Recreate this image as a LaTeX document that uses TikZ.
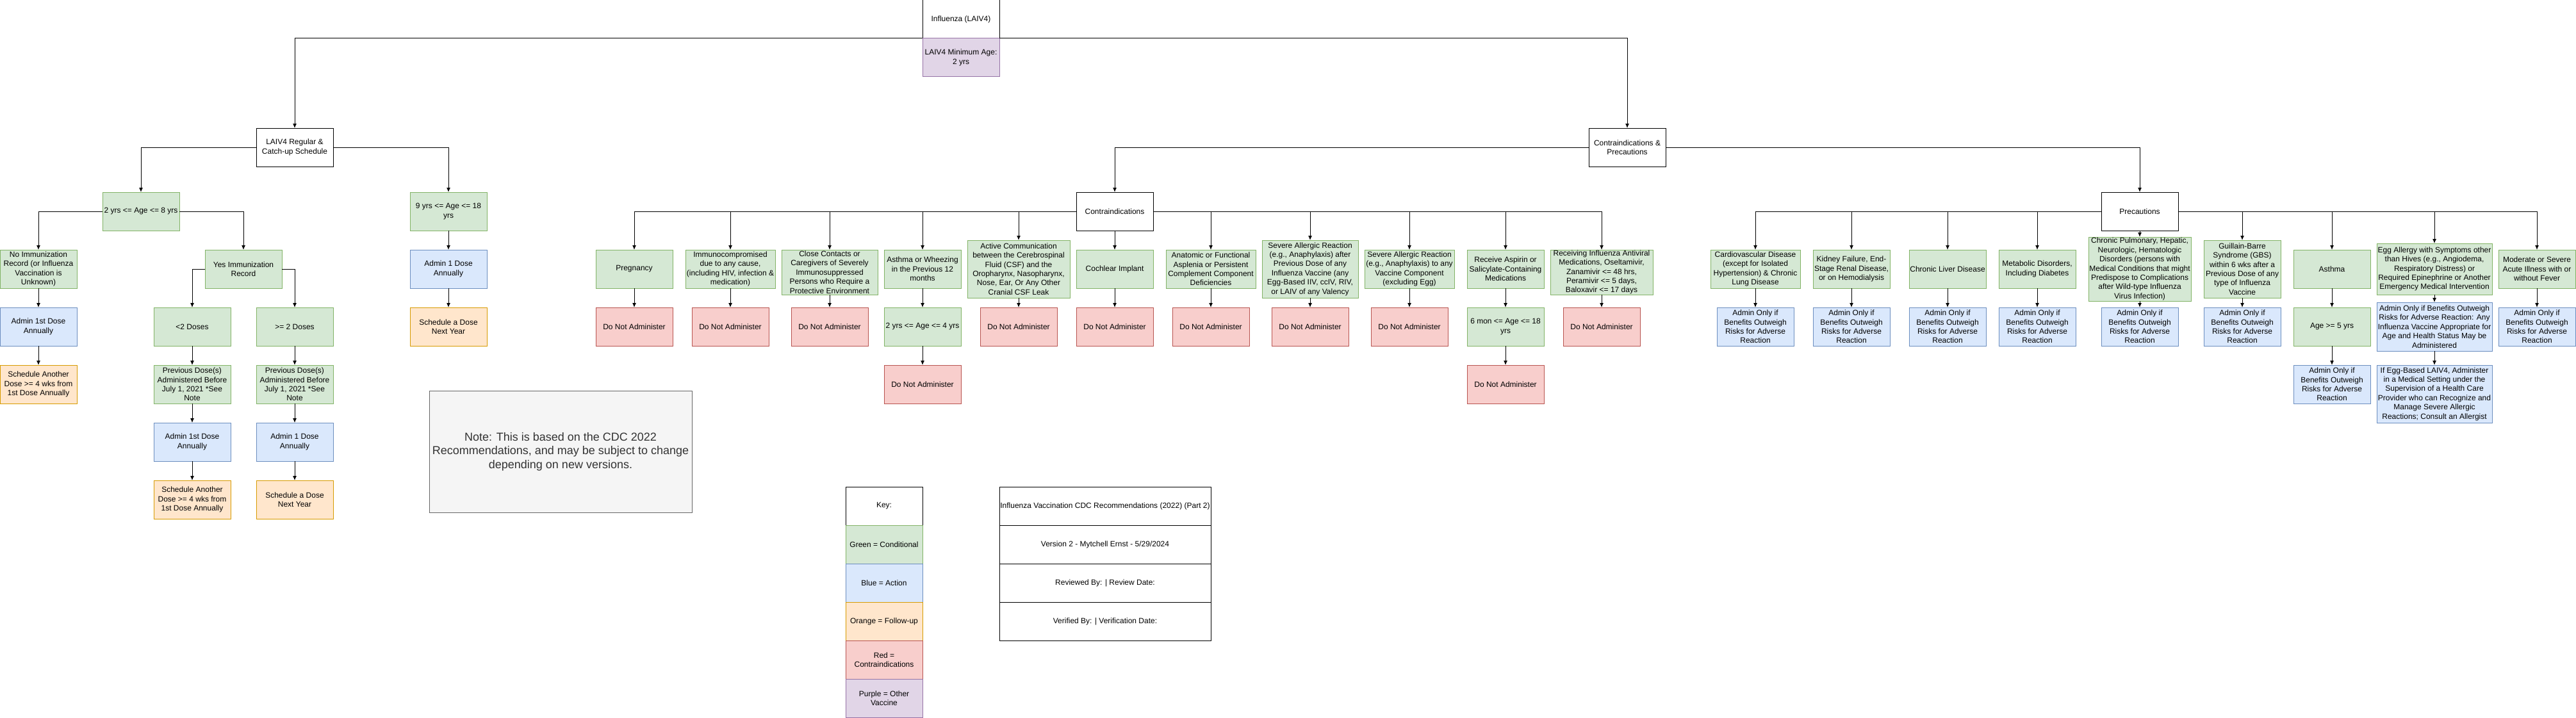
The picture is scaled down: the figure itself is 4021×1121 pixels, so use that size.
\documentclass[tikz,border=0pt]{standalone}
\usepackage{fontspec}
\setmainfont{Liberation Sans}
\usetikzlibrary{arrows.meta, positioning, calc}

\definecolor{condfill}{HTML}{D5E8D4}
\definecolor{condline}{HTML}{82B366}
\definecolor{actfill}{HTML}{DAE8FC}
\definecolor{actline}{HTML}{6C8EBF}
\definecolor{folfill}{HTML}{FFE6CC}
\definecolor{folline}{HTML}{D79B00}
\definecolor{redfill}{HTML}{F8CECC}
\definecolor{redline}{HTML}{B85450}
\definecolor{purfill}{HTML}{E1D5E7}
\definecolor{purline}{HTML}{9673A6}
\definecolor{notefill}{HTML}{F5F5F5}
\definecolor{noteline}{HTML}{666666}
\definecolor{notetext}{HTML}{333333}

\tikzset{
  base/.style={draw, line width=1pt, inner sep=0pt, outer sep=0pt, align=center,
    minimum width=120pt, minimum height=60pt, font=\fontsize{12pt}{14.4pt}\selectfont},
  wh/.style 2 args={minimum width=#1pt, minimum height=#2pt},
  plainbox/.style={base, fill=white},
  condbox/.style={base, draw=condline, fill=condfill},
  actbox/.style={base, draw=actline, fill=actfill},
  folbox/.style={base, draw=folline, fill=folfill},
  redbox/.style={base, draw=redline, fill=redfill},
  purbox/.style={base, draw=purline, fill=purfill},
  notebox/.style={base, draw=noteline, fill=notefill, text=notetext,
    font=\fontsize{18pt}{21.6pt}\selectfont},
  link/.style={draw, line width=1pt, -{Latex[length=7pt,width=6pt]}}
}

\begin{document}
\begin{tikzpicture}[x=1pt, y=-1pt]
    \useasboundingbox (0,0) rectangle (4021,1121);

    % top
    \node[plainbox] (root) at (1500,30) {Influenza (LAIV4)};
    \node[purbox] (rootage) at (1500,90) {LAIV4 Minimum Age:\\2 yrs};
    \node[plainbox] (sched) at (460,230) {LAIV4 Regular \&\\Catch-up Schedule};
    \node[plainbox] (cp) at (2540,230) {Contraindications \&\\Precautions};

    % regular and catch-up schedule
    \node[condbox] (age28) at (220,330) {2 yrs <= Age <= 8 yrs};
    \node[condbox] (age918) at (700,330) {9 yrs <= Age <= 18\\yrs};
    \node[condbox] (noimm) at (60,420) {No Immunization\\Record (or Influenza\\Vaccination is\\Unknown)};
    \node[actbox, below=30pt of noimm] (adm1a) {Admin 1st Dose\\Annually};
    \node[folbox, below=30pt of adm1a] (another1) {Schedule Another\\Dose >= 4 wks from\\1st Dose Annually};
    \node[condbox] (yesimm) at (380,420) {Yes Immunization\\Record};
    \node[condbox] (lt2) at (300,510) {<2 Doses};
    \node[condbox, below=30pt of lt2] (prev1) {Previous Dose(s)\\Administered Before\\July 1, 2021 *See\\Note};
    \node[actbox, below=30pt of prev1] (adm1b) {Admin 1st Dose\\Annually};
    \node[folbox, below=30pt of adm1b] (another2) {Schedule Another\\Dose >= 4 wks from\\1st Dose Annually};
    \node[condbox] (ge2) at (460,510) {>= 2 Doses};
    \node[condbox, below=30pt of ge2] (prev2) {Previous Dose(s)\\Administered Before\\July 1, 2021 *See\\Note};
    \node[actbox, below=30pt of prev2] (adm1c) {Admin 1 Dose\\Annually};
    \node[folbox, below=30pt of adm1c] (nextyr1) {Schedule a Dose\\Next Year};
    \node[actbox, below=30pt of age918] (adm1d) {Admin 1 Dose\\Annually};
    \node[folbox, below=30pt of adm1d] (nextyr2) {Schedule a Dose\\Next Year};

    \node[notebox, wh={410}{190}] (note) at (875,705) {Note: This is based on the CDC 2022\\Recommendations, and may be subject to change\\depending on new versions.};

    % contraindications
    \node[plainbox] (contra) at (1740,330) {Contraindications};
    \node[condbox] (preg) at (990,420) {Pregnancy};
    \node[redbox] (dna1) at (990,510) {Do Not Administer};
    \node[condbox, wh={140}{60}] (immuno) at (1140,420) {Immunocompromised\\due to any cause,\\(including HIV, infection \&\\medication)};
    \node[redbox] (dna2) at (1140,510) {Do Not Administer};
    \node[condbox, wh={150}{70}] (close) at (1295,425) {Close Contacts or\\Caregivers of Severely\\Immunosuppressed\\Persons who Require a\\Protective Environment};
    \node[redbox] (dna3) at (1295,510) {Do Not Administer};
    \node[condbox] (wheeze) at (1440,420) {Asthma or Wheezing\\in the Previous 12\\months};
    \node[condbox, below=30pt of wheeze] (age24) {2 yrs <= Age <= 4 yrs};
    \node[redbox, below=30pt of age24] (dna4) {Do Not Administer};
    \node[condbox, wh={160}{90}] (csf) at (1590,420) {Active Communication\\between the Cerebrospinal\\Fluid (CSF) and the\\Oropharynx, Nasopharynx,\\Nose, Ear, Or Any Other\\Cranial CSF Leak};
    \node[redbox] (dna5) at (1590,510) {Do Not Administer};
    \node[condbox] (cochlear) at (1740,420) {Cochlear Implant};
    \node[redbox, below=30pt of cochlear] (dna6) {Do Not Administer};
    \node[condbox, wh={140}{60}] (asplenia) at (1890,420) {Anatomic or Functional\\Asplenia or Persistent\\Complement Component\\Deficiencies};
    \node[redbox] (dna7) at (1890,510) {Do Not Administer};
    \node[condbox, wh={150}{90}] (sevprev) at (2045,420) {Severe Allergic Reaction\\(e.g., Anaphylaxis) after\\Previous Dose of any\\Influenza Vaccine (any\\Egg-Based IIV, ccIV, RIV,\\or LAIV of any Valency};
    \node[redbox] (dna8) at (2045,510) {Do Not Administer};
    \node[condbox, wh={140}{60}] (sevcomp) at (2200,420) {Severe Allergic Reaction\\(e.g., Anaphylaxis) to any\\Vaccine Component\\(excluding Egg)};
    \node[redbox] (dna9) at (2200,510) {Do Not Administer};
    \node[condbox] (aspirin) at (2350,420) {Receive Aspirin or\\Salicylate-Containing\\Medications};
    \node[condbox, below=30pt of aspirin] (age618) {6 mon <= Age <= 18\\yrs};
    \node[redbox, below=30pt of age618] (dna10) {Do Not Administer};
    \node[condbox, wh={160}{70}] (antiviral) at (2500,425) {Receiving Influenza Antiviral\\Medications, Oseltamivir,\\Zanamivir <= 48 hrs,\\Peramivir <= 5 days,\\Baloxavir <= 17 days};
    \node[redbox] (dna11) at (2500,510) {Do Not Administer};

    % precautions
    \node[plainbox] (prec) at (3340,330) {Precautions};
    \node[condbox, wh={140}{60}] (cardio) at (2740,420) {Cardiovascular Disease\\(except for Isolated\\Hypertension) \& Chronic\\Lung Disease};
    \node[actbox] (ben1) at (2740,510) {Admin Only if\\Benefits Outweigh\\Risks for Adverse\\Reaction};
    \node[condbox] (kidney) at (2890,420) {Kidney Failure, End-\\Stage Renal Disease,\\or on Hemodialysis};
    \node[actbox, below=30pt of kidney] (ben2) {Admin Only if\\Benefits Outweigh\\Risks for Adverse\\Reaction};
    \node[condbox] (liver) at (3040,420) {Chronic Liver Disease};
    \node[actbox, below=30pt of liver] (ben3) {Admin Only if\\Benefits Outweigh\\Risks for Adverse\\Reaction};
    \node[condbox] (metab) at (3180,420) {Metabolic Disorders,\\Including Diabetes};
    \node[actbox, below=30pt of metab] (ben4) {Admin Only if\\Benefits Outweigh\\Risks for Adverse\\Reaction};
    \node[condbox, wh={160}{100}] (pulm) at (3340,420) {Chronic Pulmonary, Hepatic,\\Neurologic, Hematologic\\Disorders (persons with\\Medical Conditions that might\\Predispose to Complications\\after Wild-type Influenza\\Virus Infection)};
    \node[actbox] (ben5) at (3340,510) {Admin Only if\\Benefits Outweigh\\Risks for Adverse\\Reaction};
    \node[condbox, wh={120}{90}] (gbs) at (3500,420) {Guillain-Barre\\Syndrome (GBS)\\within 6 wks after a\\Previous Dose of any\\type of Influenza\\Vaccine};
    \node[actbox] (ben6) at (3500,510) {Admin Only if\\Benefits Outweigh\\Risks for Adverse\\Reaction};
    \node[condbox] (asthma) at (3640,420) {Asthma};
    \node[condbox, below=30pt of asthma] (age5) {Age >= 5 yrs};
    \node[actbox, below=30pt of age5] (ben7) {Admin Only if\\Benefits Outweigh\\Risks for Adverse\\Reaction};
    \node[condbox, wh={180}{80}] (egg) at (3800,420) {Egg Allergy with Symptoms other\\than Hives (e.g., Angiodema,\\Respiratory Distress) or\\Required Epinephrine or Another\\Emergency Medical Intervention};
    \node[actbox, wh={180}{76}] (eggadm) at (3800,510) {Admin Only if Benefits Outweigh\\Risks for Adverse Reaction: Any\\Influenza Vaccine Appropriate for\\Age and Health Status May be\\Administered};
    \node[actbox, wh={180}{90}] (eggcare) at (3800,615) {If Egg-Based LAIV4, Administer\\in a Medical Setting under the\\Supervision of a Health Care\\Provider who can Recognize and\\Manage Severe Allergic\\Reactions; Consult an Allergist};
    \node[condbox] (acute) at (3960,420) {Moderate or Severe\\Acute Illness with or\\without Fever};
    \node[actbox, below=30pt of acute] (ben8) {Admin Only if\\Benefits Outweigh\\Risks for Adverse\\Reaction};

    % key and title block
    \node[plainbox] (key) at (1380,790) {Key:};
    \node[condbox, below=0pt of key] (kgreen) {Green = Conditional};
    \node[actbox, below=0pt of kgreen] (kblue) {Blue = Action};
    \node[folbox, below=0pt of kblue] (korange) {Orange = Follow-up};
    \node[redbox, below=0pt of korange] (kred) {Red =\\Contraindications};
    \node[purbox, below=0pt of kred] (kpurple) {Purple = Other\\Vaccine};
    \node[plainbox, wh={330}{60}] (title) at (1725,790) {Influenza Vaccination CDC Recommendations (2022) (Part 2)};
    \node[plainbox, wh={330}{60}, below=0pt of title] (version) {Version 2 - Mytchell Ernst - 5/29/2024};
    \node[plainbox, wh={330}{60}, below=0pt of version] (review) {Reviewed By: | Review Date:};
    \node[plainbox, wh={330}{60}, below=0pt of review] (verify) {Verified By: | Verification Date:};

    % connectors
    \draw[link] (root.south west) -| (sched.north);
    \draw[link] (root.south east) -| (cp.north);
    \draw[link] (sched.west) -| (age28.north);
    \draw[link] (sched.east) -| (age918.north);
    \draw[link] (age28.west) -| (noimm.north);
    \draw[link] (age28.east) -| (yesimm.north);
    \draw[link] (noimm) -- (adm1a);
    \draw[link] (adm1a) -- (another1);
    \draw[link] (yesimm.west) -| (lt2.north);
    \draw[link] (yesimm.east) -| (ge2.north);
    \draw[link] (lt2) -- (prev1);
    \draw[link] (prev1) -- (adm1b);
    \draw[link] (adm1b) -- (another2);
    \draw[link] (ge2) -- (prev2);
    \draw[link] (prev2) -- (adm1c);
    \draw[link] (adm1c) -- (nextyr1);
    \draw[link] (age918) -- (adm1d);
    \draw[link] (adm1d) -- (nextyr2);

    \draw[link] (cp.west) -| (contra.north);
    \draw[link] (cp.east) -| (prec.north);

    \draw[link] (contra.west) -| (preg.north);
    \draw[link] (contra.west) -| (immuno.north);
    \draw[link] (contra.west) -| (close.north);
    \draw[link] (contra.west) -| (wheeze.north);
    \draw[link] (contra.west) -| (csf.north);
    \draw[link] (contra.south) -- (cochlear.north);
    \draw[link] (contra.east) -| (asplenia.north);
    \draw[link] (contra.east) -| (sevprev.north);
    \draw[link] (contra.east) -| (sevcomp.north);
    \draw[link] (contra.east) -| (aspirin.north);
    \draw[link] (contra.east) -| (antiviral.north);
    \draw[link] (preg) -- (dna1);
    \draw[link] (immuno) -- (dna2);
    \draw[link] (close) -- (dna3);
    \draw[link] (wheeze) -- (age24);
    \draw[link] (age24) -- (dna4);
    \draw[link] (csf) -- (dna5);
    \draw[link] (cochlear) -- (dna6);
    \draw[link] (asplenia) -- (dna7);
    \draw[link] (sevprev) -- (dna8);
    \draw[link] (sevcomp) -- (dna9);
    \draw[link] (aspirin) -- (age618);
    \draw[link] (age618) -- (dna10);
    \draw[link] (antiviral) -- (dna11);

    \draw[link] (prec.west) -| (cardio.north);
    \draw[link] (prec.west) -| (kidney.north);
    \draw[link] (prec.west) -| (liver.north);
    \draw[link] (prec.west) -| (metab.north);
    \draw[link] (prec.south) -- (pulm.north);
    \draw[link] (prec.east) -| (gbs.north);
    \draw[link] (prec.east) -| (asthma.north);
    \draw[link] (prec.east) -| (egg.north);
    \draw[link] (prec.east) -| (acute.north);
    \draw[link] (cardio) -- (ben1);
    \draw[link] (kidney) -- (ben2);
    \draw[link] (liver) -- (ben3);
    \draw[link] (metab) -- (ben4);
    \draw[link] (pulm) -- (ben5);
    \draw[link] (gbs) -- (ben6);
    \draw[link] (asthma) -- (age5);
    \draw[link] (age5) -- (ben7);
    \draw[link] (egg) -- (eggadm);
    \draw[link] (eggadm) -- (eggcare);
    \draw[link] (acute) -- (ben8);
\end{tikzpicture}
\end{document}
